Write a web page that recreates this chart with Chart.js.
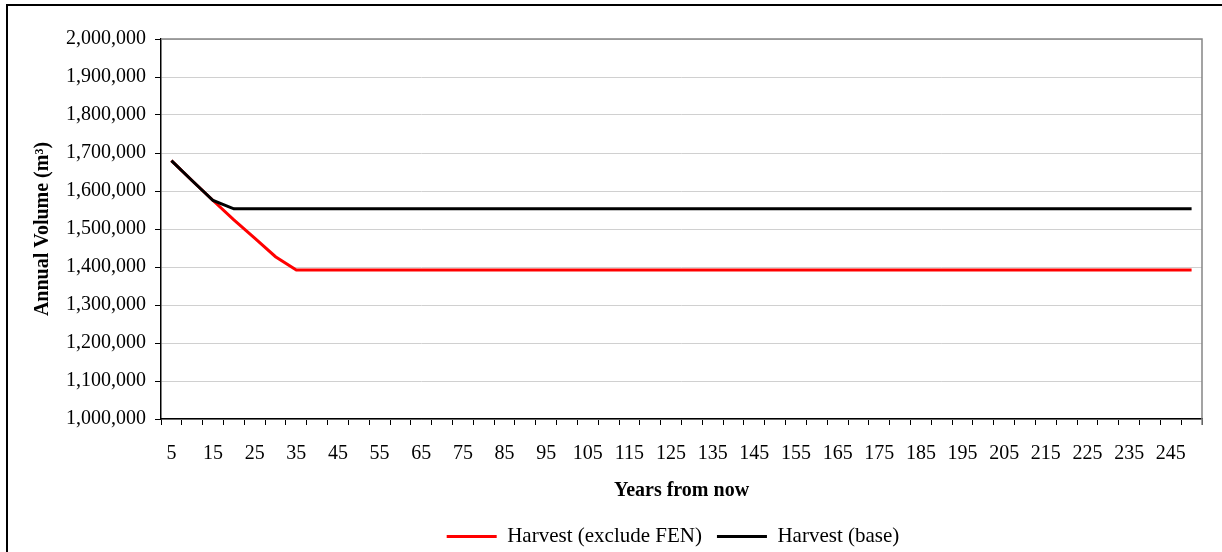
<!DOCTYPE html>
<html>
<head>
<meta charset="utf-8">
<script src="https://cdn.jsdelivr.net/npm/chart.js@4/dist/chart.umd.min.js"></script>
<style>
  html, body { margin: 0; padding: 0; background: #ffffff; }
  #wrap { width: 1222px; height: 552px; }
</style>
</head>
<body>
<div id="wrap"><canvas id="c" width="1222" height="552"></canvas></div>
<script>
// ---- data ----
const years = [5, 10, 15, 20, 25, 30, 35, 40, 45, 50,
               55, 60, 65, 70, 75, 80, 85, 90, 95, 100,
               105, 110, 115, 120, 125, 130, 135, 140, 145, 150,
               155, 160, 165, 170, 175, 180, 185, 190, 195, 200,
               205, 210, 215, 220, 225, 230, 235, 240, 245, 250];

const harvestExcludeFEN = [1680000, 1627000, 1575000, 1524000, 1476000, 1427000, 1392000, 1392000, 1392000, 1392000,
                           1392000, 1392000, 1392000, 1392000, 1392000, 1392000, 1392000, 1392000, 1392000, 1392000,
                           1392000, 1392000, 1392000, 1392000, 1392000, 1392000, 1392000, 1392000, 1392000, 1392000,
                           1392000, 1392000, 1392000, 1392000, 1392000, 1392000, 1392000, 1392000, 1392000, 1392000,
                           1392000, 1392000, 1392000, 1392000, 1392000, 1392000, 1392000, 1392000, 1392000, 1392000];

const harvestBase = [1680000, 1627000, 1575000, 1553000, 1553000, 1553000, 1553000, 1553000, 1553000, 1553000,
                     1553000, 1553000, 1553000, 1553000, 1553000, 1553000, 1553000, 1553000, 1553000, 1553000,
                     1553000, 1553000, 1553000, 1553000, 1553000, 1553000, 1553000, 1553000, 1553000, 1553000,
                     1553000, 1553000, 1553000, 1553000, 1553000, 1553000, 1553000, 1553000, 1553000, 1553000,
                     1553000, 1553000, 1553000, 1553000, 1553000, 1553000, 1553000, 1553000, 1553000, 1553000];

const seriesNames = ['Harvest (exclude FEN)', 'Harvest (base)'];
const yMin = 1000000;
const yMax = 2000000;
const yStep = 100000;
const xTitle = 'Years from now';
const yTitle = 'Annual Volume (m³)';

// ---- plugins ----
const framePlugin = {
  id: 'frame',
  beforeDraw(chart) {
    const ctx = chart.ctx;
    ctx.save();
    ctx.fillStyle = '#ffffff';
    ctx.fillRect(0, 0, chart.width, chart.height);
    ctx.restore();
  },
  afterLayout(chart) {
    const lg = chart.legend;
    if (lg) {
      lg.left = 161; lg.right = 1185;
      lg.top += 5; lg.bottom += 5;
    }
  },
  afterDraw(chart) {
    const ctx = chart.ctx, a = chart.chartArea;
    ctx.save();
    ctx.strokeStyle = '#000000';
    ctx.lineWidth = 2;
    ctx.beginPath();
    ctx.moveTo(7, chart.height);
    ctx.lineTo(7, 5);
    ctx.lineTo(chart.width, 5);
    ctx.stroke();
    ctx.strokeStyle = '#858585';
    ctx.lineWidth = 1.5;
    ctx.beginPath();
    ctx.moveTo(a.left, a.top);
    ctx.lineTo(a.right, a.top);
    ctx.lineTo(a.right, a.bottom + 6);
    ctx.stroke();
    ctx.restore();
  }
};

const serif = "'Liberation Serif', 'Times New Roman', serif";

new Chart(document.getElementById('c'), {
  type: 'line',
  data: {
    labels: years,
    datasets: [
      {
        label: seriesNames[1],
        data: harvestBase,
        borderColor: '#000000',
        backgroundColor: '#000000',
        borderWidth: 3,
        pointRadius: 0,
        pointStyle: 'line',
        tension: 0,
        fill: false
      },
      {
        label: seriesNames[0],
        data: harvestExcludeFEN,
        borderColor: '#ff0000',
        backgroundColor: '#ff0000',
        borderWidth: 3,
        pointRadius: 0,
        pointStyle: 'line',
        tension: 0,
        fill: false
      }
    ]
  },
  options: {
    responsive: false,
    animation: false,
    devicePixelRatio: 1,
    layout: { padding: { top: 39, right: 20, left: 0, bottom: 0 } },
    plugins: {
      title: { display: false },
      tooltip: { enabled: false },
      legend: {
        display: true,
        position: 'bottom',
        reverse: true,
        labels: {
          usePointStyle: true,
          pointStyle: 'line',
          pointStyleWidth: 50,
          padding: 15,
          color: '#000000',
          font: { family: serif, size: 21 }
        }
      }
    },
    scales: {
      x: {
        type: 'category',
        offset: true,
        afterFit(scale) { scale.height = 87; },
        grid: {
          display: true,
          offset: true,
          drawOnChartArea: false,
          drawTicks: true,
          tickLength: 6,
          tickColor: '#000000',
          tickWidth: 1
        },
        border: { display: true, color: '#000000', width: 1.5 },
        ticks: {
          autoSkip: false,
          maxRotation: 0,
          minRotation: 0,
          padding: 17,
          color: '#000000',
          font: { family: serif, size: 20 },
          callback: function (value, index) { return index % 2 === 0 ? String(years[index]) : ''; }
        },
        title: {
          display: true,
          text: xTitle,
          color: '#000000',
          font: { family: serif, size: 20, weight: 'bold' },
          padding: { top: 0, bottom: 3 }
        }
      },
      y: {
        min: yMin,
        max: yMax,
        afterFit(scale) { scale.width = 161; },
        grid: {
          display: true,
          color: '#d0d0d0',
          lineWidth: 1,
          drawTicks: true,
          tickLength: 6,
          tickColor: '#000000'
        },
        border: { display: true, color: '#000000', width: 1.5 },
        ticks: {
          stepSize: yStep,
          padding: 9,
          color: '#000000',
          font: { family: serif, size: 20 },
          callback: function (v) { return Number(v).toLocaleString('en-US'); }
        },
        title: {
          display: true,
          text: yTitle,
          color: '#000000',
          font: { family: serif, size: 20, weight: 'bold' },
          padding: { top: 31, bottom: 0 }
        }
      }
    }
  },
  plugins: [framePlugin]
});
</script>
</body>
</html>
